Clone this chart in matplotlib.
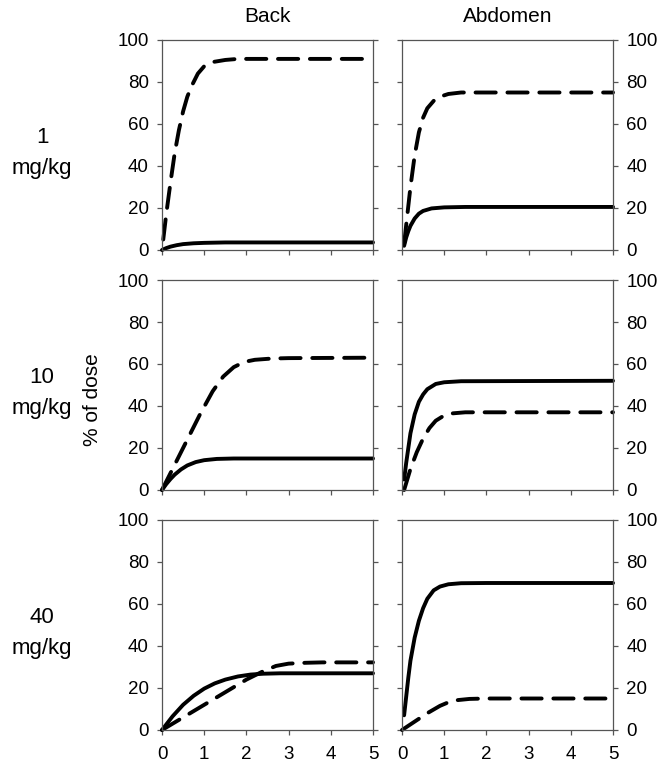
import matplotlib
matplotlib.use("Agg")
import matplotlib.pyplot as plt

plt.rcParams['font.family'] = ['Liberation Sans', 'DejaVu Sans']

col_titles = ["Back", "Abdomen"]
row_labels = ["1\nmg/kg", "10\nmg/kg", "40\nmg/kg"]
x_ticks = [0, 1, 2, 3, 4, 5]
y_ticks = [0, 20, 40, 60, 80, 100]

# Back, 1 mg/kg
b1_sol_t = [0, 0.1, 0.2, 0.35, 0.5, 0.75, 1.0, 1.5, 2.0, 5.0]
b1_sol_y = [0, 0.9, 1.6, 2.3, 2.8, 3.2, 3.4, 3.6, 3.6, 3.6]
b1_dash_t = [0.03, 0.1, 0.2, 0.3, 0.4, 0.5, 0.6, 0.7, 0.85, 1.0, 1.2, 1.5, 1.8, 2.2, 5.0]
b1_dash_y = [5, 17, 32, 46, 57, 66, 73, 78, 84, 87.5, 89.5, 90.5, 91, 91, 91]
# Abdomen, 1 mg/kg
a1_sol_t = [0.05, 0.1, 0.15, 0.2, 0.3, 0.4, 0.5, 0.7, 1.0, 1.5, 5.0]
a1_sol_y = [2, 6, 9, 11.5, 15, 17.3, 18.6, 19.8, 20.3, 20.5, 20.5]
a1_dash_t = [0.05, 0.1, 0.15, 0.2, 0.3, 0.4, 0.5, 0.6, 0.75, 0.9, 1.1, 1.4, 1.8, 5.0]
a1_dash_y = [3, 12, 21, 30, 45, 56, 63, 67.5, 71, 73, 74.3, 75, 75, 75]
# Back, 10 mg/kg
b10_sol_t = [0, 0.1, 0.2, 0.3, 0.45, 0.6, 0.8, 1.0, 1.3, 1.7, 5.0]
b10_sol_y = [0, 2.8, 5.2, 7.3, 9.8, 11.7, 13.3, 14.2, 14.8, 15, 15]
b10_dash_t = [0, 0.3, 0.6, 0.9, 1.2, 1.45, 1.7, 1.95, 2.2, 2.6, 3.0, 5.0]
b10_dash_y = [0, 12, 24, 36, 47, 54, 58.5, 61, 62, 62.6, 62.8, 63]
# Abdomen, 10 mg/kg
a10_sol_t = [0.05, 0.1, 0.15, 0.2, 0.3, 0.4, 0.5, 0.6, 0.8, 1.0, 1.4, 5.0]
a10_sol_y = [5, 13, 20, 27, 36, 42, 45.5, 48, 50.5, 51.3, 51.8, 52]
a10_dash_t = [0.05, 0.2, 0.35, 0.5, 0.65, 0.8, 1.0, 1.2, 1.5, 2.0, 5.0]
a10_dash_y = [0, 10, 18, 24.5, 29.5, 33, 35.5, 36.5, 37, 37, 37]
# Back, 40 mg/kg
b40_sol_t = [0, 0.25, 0.5, 0.75, 1.0, 1.25, 1.5, 1.8, 2.1, 2.4, 2.8, 5.0]
b40_sol_y = [0, 6.5, 12, 16.3, 19.7, 22.2, 24, 25.5, 26.4, 26.8, 27, 27]
b40_dash_t = [0, 0.5, 1.0, 1.5, 2.0, 2.4, 2.7, 3.0, 3.4, 3.8, 5.0]
b40_dash_y = [0, 6, 12, 18, 24, 28, 30.5, 31.6, 32, 32.2, 32.2]
# Abdomen, 40 mg/kg
a40_sol_t = [0.05, 0.1, 0.15, 0.2, 0.3, 0.4, 0.5, 0.6, 0.75, 0.9, 1.1, 1.4, 2.0, 5.0]
a40_sol_y = [7, 16, 25, 33, 44, 52, 58, 62.5, 66.5, 68.3, 69.4, 69.9, 70, 70]
a40_dash_t = [0, 0.3, 0.6, 0.9, 1.1, 1.3, 1.6, 2.0, 5.0]
a40_dash_y = [0, 4, 8, 11.5, 13.2, 14.2, 14.8, 15, 15]

panels = [
    [(b1_sol_t, b1_sol_y, b1_dash_t, b1_dash_y), (a1_sol_t, a1_sol_y, a1_dash_t, a1_dash_y)],
    [(b10_sol_t, b10_sol_y, b10_dash_t, b10_dash_y), (a10_sol_t, a10_sol_y, a10_dash_t, a10_dash_y)],
    [(b40_sol_t, b40_sol_y, b40_dash_t, b40_dash_y), (a40_sol_t, a40_sol_y, a40_dash_t, a40_dash_y)],
]

W, H = 664, 771
fig = plt.figure(figsize=(W / 100, H / 100), dpi=100)

col_left = [162, 402]
ax_w = 211
row_top = [40, 280, 520]
ax_h = 210
spine_col = '#555555'

for r in range(3):
    for c in range(2):
        ax = fig.add_axes([col_left[c] / W, 1 - (row_top[r] + ax_h) / H, ax_w / W, ax_h / H])
        st, sy, dt, dy = panels[r][c]
        ax.plot(st, sy, color='black', lw=2.8, solid_capstyle='round',
                solid_joinstyle='round', clip_on=False)
        ax.plot(dt, dy, color='black', lw=2.8, dashes=(5.2, 3.0),
                dash_capstyle='round', clip_on=False)
        ax.set_xlim(0, 5)
        ax.set_ylim(0, 100)
        ax.set_xticks(x_ticks)
        ax.set_yticks(y_ticks)
        for s in ax.spines.values():
            s.set_color(spine_col)
            s.set_linewidth(0.9)
        ax.tick_params(axis='both', which='both', direction='out', length=3.5,
                       color=spine_col, width=0.9, labelsize=13.5)
        ax.tick_params(axis='x', pad=8)
        ax.tick_params(axis='y', left=True, right=True, pad=6)
        if c == 0:
            ax.tick_params(axis='y', labelleft=True, labelright=False)
        else:
            ax.tick_params(axis='y', labelleft=False, labelright=True)
        if r < 2:
            ax.tick_params(axis='x', labelbottom=False)

for c in range(2):
    xc = col_left[c] + ax_w / 2
    fig.text(xc / W, 1 - 17 / H, col_titles[c], ha='center', va='center', fontsize=15)

for r in range(3):
    yc = row_top[r] + ax_h / 2 + 8
    fig.text(42 / W, 1 - yc / H, row_labels[r], ha='center', va='center',
             fontsize=16, linespacing=1.6)

fig.text(92 / W, 1 - 400 / H, "% of dose", rotation=90, ha='center', va='center', fontsize=15)

fig.savefig("out.png", dpi=100)
